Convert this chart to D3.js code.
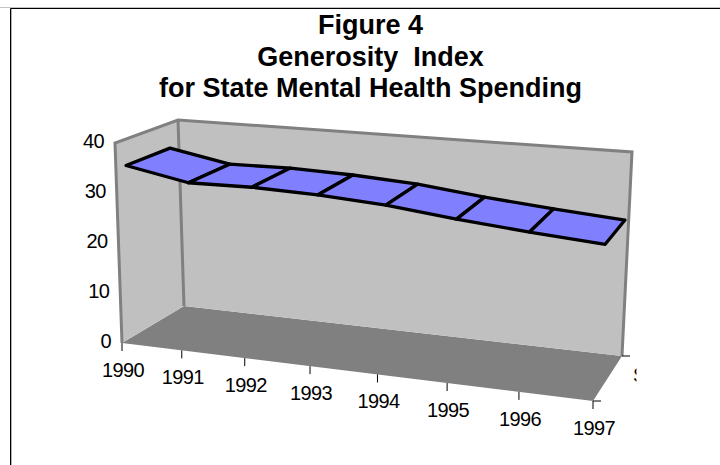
<!DOCTYPE html>
<html><head><meta charset="utf-8">
<script src="https://cdn.jsdelivr.net/npm/d3@7/dist/d3.min.js"></script>
<style>html,body{margin:0;padding:0;background:#fff}svg{display:block}text{font-family:"Liberation Sans",Arial,sans-serif;fill:#000}</style>
</head><body><div id="c"></div>
<script>
const titleLines = ["Figure 4","Generosity  Index","for State Mental Health Spending"];
const categories = ["1990","1991","1992","1993","1994","1995","1996","1997"];
const values = [34.7,32.3,32.5,32.1,31.3,29.8,28.6,27.6];
const valueTicks = [0,10,20,30,40];

const W=720,H=465;
const svg=d3.select("#c").append("svg").attr("width",W).attr("height",H);

// box corners on screen: [front-left, front-right, back-right, back-left]
const floorQuad=[[122,343],[593,401],[622,356],[184,306]];
const topQuad=[[115,143],[604,182],[632,152],[178,120]];
function homography(q){
  const [[x0,y0],[x1,y1],[x2,y2],[x3,y3]]=q;
  const dx1=x1-x2,dx2=x3-x2,sx=x0-x1+x2-x3,dy1=y1-y2,dy2=y3-y2,sy=y0-y1+y2-y3;
  const det=dx1*dy2-dx2*dy1;
  const g=(sx*dy2-dx2*sy)/det,h=(dx1*sy-sx*dy1)/det;
  const a=x1-x0+g*x1,b=x3-x0+h*x3,d=y1-y0+g*y1,e=y3-y0+h*y3;
  return (u,v)=>{const w=g*u+h*v+1;return [(a*u+b*v+x0)/w,(d*u+e*v+y0)/w];};
}
const fl=homography(floorQuad),tp=homography(topQuad);
const uScale=d3.scalePoint().domain(categories).range([0,1]);
const tickWarp=d3.scalePow().exponent(1.02).domain([0,1]).range([0,1]);
const ribbonWarp=d3.scalePow().exponent(0.99).domain([0,1]).range([0,1]);
const hScale=d3.scaleLinear().domain([0,40]).range([0,1]);
function proj(u,v,val){
  const a=fl(u,v),b=tp(u,v),t=hScale(val);
  return [a[0]+(b[0]-a[0])*t,a[1]+(b[1]-a[1])*t];
}
const line=d3.line();
const poly=pts=>line(pts)+"Z";

// chart frame
svg.append("path").attr("d","M0,7.5H720").attr("fill","none").attr("stroke","#c4c4c4");
svg.append("path").attr("d","M11.5,9V465").attr("fill","none").attr("stroke","#b0b0b0");
svg.append("path").attr("d","M10.5,465V8.5H720").attr("fill","none").attr("stroke","#000");

// title
svg.append("g").selectAll("text").data(titleLines).join("text")
  .attr("x",370.5).attr("y",(d,i)=>[34,66,97][i]).attr("text-anchor","middle")
  .attr("xml:space","preserve").style("white-space","pre")
  .attr("font-weight","bold").attr("font-size",27).text(d=>d);

// walls & floor
const wall="#c0c0c0",edge="#808080";
svg.append("path").attr("d",poly([proj(0,0,0),proj(1,0,0),proj(1,1,0),proj(0,1,0)])).attr("fill",edge);
svg.append("path").attr("d",poly([proj(0,0,0),proj(0,1,0),proj(0,1,40),proj(0,0,40)])).attr("fill",wall);
svg.append("path").attr("d",poly([proj(0,1,0),proj(1,1,0),proj(1,1,40),proj(0,1,40)])).attr("fill",wall);
svg.append("path").attr("d",line([proj(0,0,0),proj(0,0,40),proj(0,1,40),proj(1,1,40),proj(1,1,0)])).attr("fill","none").attr("stroke",edge).attr("stroke-width",3).attr("stroke-linejoin","miter");
svg.append("path").attr("d",line([proj(0,1,0),proj(0,1,40)])).attr("fill","none").attr("stroke",edge).attr("stroke-width",3);

// ribbon
const v0=0.15,v1=0.85;
d3.range(categories.length-1).forEach(i=>{
  const ua=ribbonWarp(uScale(categories[i])),ub=ribbonWarp(uScale(categories[i+1]));
  svg.append("path").attr("d",poly([proj(ua,v0,values[i]),proj(ub,v0,values[i+1]),proj(ub,v1,values[i+1]),proj(ua,v1,values[i])]))
    .attr("fill","#8080ff").attr("stroke","#000").attr("stroke-width",3.3).attr("stroke-linejoin","round");
});

// value axis labels
svg.append("g").selectAll("text").data(valueTicks).join("text")
  .attr("x",d=>proj(0,0,d)[0]-11).attr("y",d=>proj(0,0,d)[1]+5).attr("text-anchor","end")
  .attr("font-size",20).attr("letter-spacing",-0.6).text(d=>d);

// category ticks and labels
categories.forEach(c=>{
  const p=proj(tickWarp(uScale(c)),0,0);
  svg.append("line").attr("x1",p[0]).attr("x2",p[0]).attr("y1",p[1]).attr("y2",p[1]+8).attr("stroke","#000");
  svg.append("text").attr("x",p[0]+1).attr("y",p[1]+34).attr("text-anchor","middle").attr("font-size",20).attr("letter-spacing",-0.6).text(c);
});
// depth ticks
const fr=proj(1,0,0),br=proj(1,1,0);
svg.append("line").attr("x1",fr[0]).attr("x2",fr[0]+8).attr("y1",fr[1]).attr("y2",fr[1]).attr("stroke","#000");
svg.append("line").attr("x1",br[0]).attr("x2",br[0]+8).attr("y1",br[1]).attr("y2",br[1]).attr("stroke","#000");
// clipped series label
svg.append("clipPath").attr("id","sc").append("rect").attr("x",630).attr("y",360).attr("width",6.5).attr("height",30);
svg.append("text").attr("clip-path","url(#sc)").attr("x",633).attr("y",382).attr("font-size",20).text("S");
</script></body></html>
